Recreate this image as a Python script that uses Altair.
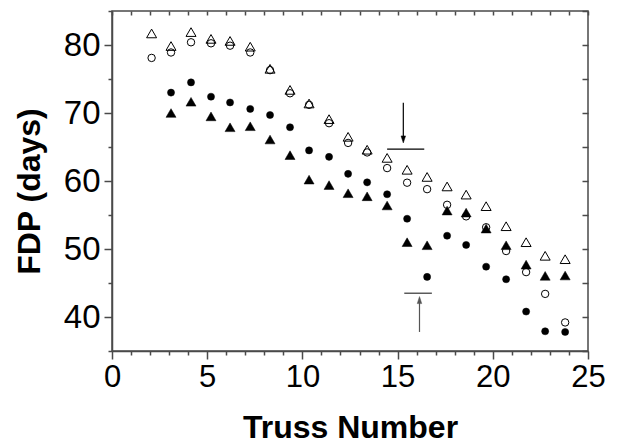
import altair as alt
import pandas as pd

# Column positions (truss number)
truss_open = [2.08, 3.1, 4.15, 5.2, 6.2, 7.26, 8.3, 9.35, 10.35, 11.4, 12.4,
              13.4, 14.45, 15.5, 16.55, 17.6, 18.6, 19.65, 20.7, 21.75, 22.75, 23.8]
truss_filled = [3.1, 4.15, 5.2, 6.2, 7.26, 8.3, 9.35, 10.35, 11.4, 12.4,
                13.4, 14.45, 15.5, 16.55, 17.6, 18.6, 19.65, 20.7, 21.75, 22.75, 23.8]

open_triangle = [81.7, 79.85, 81.9, 80.9, 80.6, 79.75, 76.5, 73.4, 71.4, 69.1, 66.5,
                 64.6, 63.4, 61.65, 60.6, 59.2, 58.0, 56.3, 53.35, 51.0, 49.0, 48.5]
open_circle = [78.1, 78.9, 80.4, 80.25, 79.9, 78.9, 76.3, 72.9, 71.2, 68.5, 65.6,
               64.2, 61.9, 59.75, 58.8, 56.5, 54.8, 53.2, 49.7, 46.6, 43.4, 39.2]
filled_circle = [73.0, 74.5, 72.4, 71.55, 70.6, 69.7, 67.9, 64.5, 63.55, 61.05,
                 59.8, 58.05, 54.45, 45.9, 51.95, 50.6, 47.4, 45.55, 40.8, 37.9, 37.8]
filled_triangle = [70.0, 71.65, 69.5, 67.9, 68.05, 66.1, 63.8, 60.2, 59.4, 58.2,
                   57.75, 56.4, 51.0, 50.55, 55.65, 55.35, 53.0, 50.55, 47.7, 46.05, 46.1]

# Annotation positions (data units)
down_arrow = {"x": [15.3], "y": [71.5], "y2": [66.5], "tip": [65.6]}
down_bar = {"x": [14.45], "x2": [16.4], "y": [64.7]}
up_arrow = {"x": [16.15], "y": [37.8], "y2": [42.2], "tip": [43.0]}
up_bar = {"x": [15.35], "x2": [16.8], "y": [43.5]}

FONT = "Liberation Sans"
AX = "#4a4a4a"

xscale = alt.Scale(domain=[0, 25], nice=False, zero=False)
yscale = alt.Scale(domain=[35, 85], nice=False, zero=False)

x_bottom = alt.Axis(
    values=list(range(0, 26)),
    labelExpr="datum.value % 5 === 0 ? datum.label : ''",
    tickSize={"condition": {"test": "datum.value % 5 === 0", "value": 8}, "value": 4},
    title="Truss Number", grid=False,
    labelFontSize=31, labelPadding=3, titleFontSize=32, titleFontWeight="bold",
    titlePadding=20, labelFlush=False,
)
y_left = alt.Axis(
    values=list(range(35, 86, 5)),
    labelExpr="datum.value % 10 === 0 ? datum.label : ''",
    tickSize={"condition": {"test": "datum.value % 10 === 0", "value": 8}, "value": 4},
    title="FDP (days)", grid=False,
    labelFontSize=33, labelPadding=4, titleFontSize=32, titleFontWeight="bold",
    titlePadding=17, titleY=180, labelFlush=False,
)
x_top = alt.Axis(orient="top", values=list(range(0, 26)), labels=False, domain=False,
                 tickSize=4, offset=-4, title=None, grid=False)
y_right = alt.Axis(orient="right", values=list(range(35, 86, 5)), labels=False, domain=False,
                   tickSize=6, offset=-6, title=None, grid=False)


def series(xs, ys, shape, filled, size, xaxis=None, yaxis=None):
    df = pd.DataFrame({"x": xs, "y": ys})
    if filled:
        mark = alt.Chart(df).mark_point(shape=shape, filled=True, fill="black",
                                        stroke="black", strokeWidth=0.5, size=size, opacity=1)
    else:
        mark = alt.Chart(df).mark_point(shape=shape, filled=False, stroke="black",
                                        strokeWidth=1, size=size, opacity=1)
    return mark.encode(
        x=alt.X("x:Q", scale=xscale, axis=xaxis),
        y=alt.Y("y:Q", scale=yscale, axis=yaxis),
    )


l_oc = series(truss_open, open_circle, "circle", False, 55, x_bottom, y_left)
l_ot = series(truss_open, open_triangle, "triangle-up", False, 100, x_top, y_right)
l_fc = series(truss_filled, filled_circle, "circle", True, 50)
l_ft = series(truss_filled, filled_triangle, "triangle-up", True, 100)


def shaft(d, color):
    return alt.Chart(pd.DataFrame(d)).mark_rule(color=color, strokeWidth=1.2).encode(
        x=alt.X("x:Q", scale=xscale, axis=None),
        y=alt.Y("y:Q", scale=yscale, axis=None),
        y2="y2:Q",
    )


def head(d, path, color):
    return alt.Chart(pd.DataFrame(d)).mark_point(
        shape=path, filled=True, fill=color, stroke=color, strokeWidth=0.5,
        size=196, opacity=1
    ).encode(
        x=alt.X("x:Q", scale=xscale, axis=None),
        y=alt.Y("tip:Q", scale=yscale, axis=None),
    )


def bar(d, color):
    return alt.Chart(pd.DataFrame(d)).mark_rule(color=color, strokeWidth=1.2).encode(
        x=alt.X("x:Q", scale=xscale, axis=None),
        x2="x2:Q",
        y=alt.Y("y:Q", scale=yscale, axis=None),
    )


ann = [
    shaft(down_arrow, "black"),
    head(down_arrow, "M0,0L-0.32,-1L0.32,-1Z", "black"),
    bar(down_bar, "black"),
    shaft(up_arrow, "#555555"),
    head(up_arrow, "M0,0L-0.32,1L0.32,1Z", "#555555"),
    bar(up_bar, "#333333"),
]

chart = (
    alt.layer(l_oc, l_ot, l_fc, l_ft, *ann)
    .resolve_axis(x="independent", y="independent")
    .properties(
        width=476, height=340,
        autosize=alt.AutoSizeParams(type="none"),
        padding={"left": 112, "top": 11, "right": 36, "bottom": 94},
        background="white",
    )
    .configure_view(stroke=AX, strokeWidth=1.5)
    .configure_axis(
        domainColor=AX, domainWidth=1.5, tickColor=AX, tickWidth=1.5,
        labelFont=FONT, titleFont=FONT, labelColor="black", titleColor="black",
    )
)

chart.save("out.html", embed_options={"renderer": "svg", "actions": False})
